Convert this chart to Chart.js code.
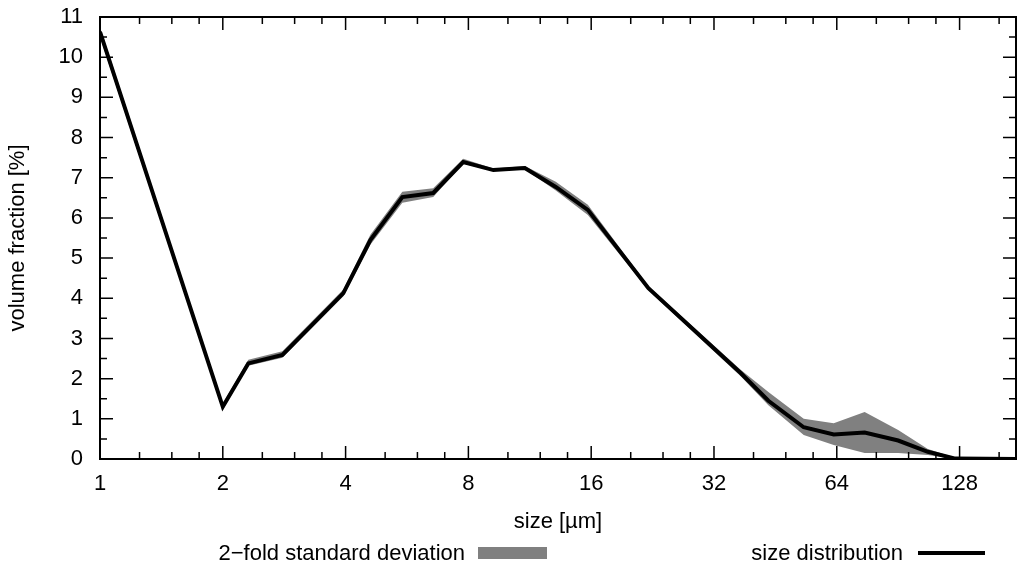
<!DOCTYPE html>
<html lang="en">
<head>
  <meta charset="UTF-8">
  <title>size distribution</title>
  <script src="https://cdn.jsdelivr.net/npm/chart.js"></script>
  <style>
    body { margin: 0; background: #fff; }
    #wrap { position: relative; width: 1020px; height: 568px; font-family: 'Liberation Sans', Arial, sans-serif; font-size: 22px; color: #000; }
    .leg { position: absolute; line-height: 26px; white-space: nowrap; }
    .swatch { position: absolute; }
  </style>
</head>
<body>
<div id="wrap">
  <canvas id="sizeChart" width="1020" height="568"></canvas>
  <!-- legend sits under the axis title, text first then sample -->
  <div class="leg" style="right: 555px; top: 540px;">2−fold standard deviation</div>
  <div class="swatch" style="left: 478px; top: 547px; width: 69px; height: 12px; background: #808080;"></div>
  <div class="leg" style="right: 117px; top: 540px;">size distribution</div>
  <div class="swatch" style="left: 918px; top: 551px; width: 67px; height: 4px; background: #000;"></div>
</div>
<script>
  // particle size [µm] and volume fraction [%]
  const sizes = [1, 2, 2.31, 2.80, 3.95, 4.60, 5.51, 6.56, 7.77, 9.21, 11.0, 13.1, 15.7, 22.1, 37.2, 43.5, 53.1, 62.9, 74.9, 90.5, 107, 125, 176];
  const fraction = [10.63, 1.3, 2.38, 2.59, 4.13, 5.45, 6.52, 6.62, 7.39, 7.19, 7.24, 6.77, 6.20, 4.25, 2.14, 1.45, 0.79, 0.61, 0.66, 0.46, 0.18, 0.01, 0];
  // 2-fold standard deviation band
  const upper = [10.75, 1.38, 2.47, 2.68, 4.22, 5.58, 6.65, 6.74, 7.47, 7.23, 7.29, 6.90, 6.33, 4.30, 2.22, 1.67, 1.0, 0.89, 1.17, 0.72, 0.25, 0.03, 0];
  const lower = [10.50, 1.22, 2.32, 2.52, 4.05, 5.33, 6.38, 6.52, 7.35, 7.17, 7.21, 6.68, 6.07, 4.20, 2.06, 1.34, 0.60, 0.35, 0.15, 0.15, 0.10, 0, 0];

  const xMajor = [1, 2, 4, 8, 16, 32, 64, 128];
  const xMinor = [1.25, 1.5, 1.75, 2.5, 3, 3.5, 5, 6, 7, 10, 12, 14, 20, 24, 28, 40, 48, 56, 80, 96, 112, 160];
  const yMajor = [0, 1, 2, 3, 4, 5, 6, 7, 8, 9, 10, 11];
  const yMinor = [0.5, 1.5, 2.5, 3.5, 4.5, 5.5, 6.5, 7.5, 8.5, 9.5, 10.5];

  const pts = arr => sizes.map((s, i) => ({ x: s, y: arr[i] }));

  Chart.defaults.font.family = "'Liberation Sans', Arial, sans-serif";
  Chart.defaults.font.size = 22;
  Chart.defaults.color = '#000';

  // gnuplot style frame with inward ticks on all four sides
  const frame = {
    id: 'frame',
    afterDraw(chart) {
      const { ctx, chartArea: a, scales: { x, y } } = chart;
      ctx.save();
      ctx.strokeStyle = '#000';
      ctx.lineWidth = 1.5;
      ctx.beginPath();
      const xt = (v, len) => {
        const p = x.getPixelForValue(v);
        ctx.moveTo(p, a.bottom); ctx.lineTo(p, a.bottom - len);
        ctx.moveTo(p, a.top); ctx.lineTo(p, a.top + len);
      };
      const yt = (v, len) => {
        const p = y.getPixelForValue(v);
        ctx.moveTo(a.left, p); ctx.lineTo(a.left + len, p);
        ctx.moveTo(a.right, p); ctx.lineTo(a.right - len, p);
      };
      xMajor.forEach(v => xt(v, 13));
      xMinor.forEach(v => xt(v, 7));
      yMajor.forEach(v => yt(v, 13));
      yMinor.forEach(v => yt(v, 7));
      ctx.stroke();
      ctx.lineWidth = 2;
      ctx.strokeRect(a.left, a.top, a.width, a.height);
      ctx.restore();
    }
  };

  const ctx = document.getElementById('sizeChart').getContext('2d');
  new Chart(ctx, {
    type: 'line',
    data: {
      datasets: [
        {
          label: 'size distribution',
          data: pts(fraction),
          borderColor: '#000',
          borderWidth: 4,
          pointRadius: 0,
          fill: false,
          tension: 0
        },
        {
          label: '2-fold standard deviation',
          data: pts(upper),
          borderWidth: 0,
          borderColor: 'rgba(0,0,0,0)',
          backgroundColor: '#808080',
          pointRadius: 0,
          fill: '+1'
        },
        {
          label: 'lower',
          data: pts(lower),
          borderWidth: 0,
          borderColor: 'rgba(0,0,0,0)',
          pointRadius: 0,
          fill: false
        }
      ]
    },
    options: {
      responsive: false,
      animation: false,
      layout: { padding: { top: 17, right: 4, bottom: 30, left: 0 } },
      plugins: { legend: { display: false }, tooltip: { enabled: false } },
      scales: {
        x: {
          type: 'logarithmic',
          min: 1,
          max: 176,
          grid: { display: false, drawTicks: false },
          border: { display: false },
          afterBuildTicks: s => { s.ticks = xMajor.map(v => ({ value: v })); },
          afterFit: s => { s.height = 79; s.paddingLeft = 0; s.paddingRight = 0; },
          ticks: { padding: 12, maxRotation: 0, autoSkip: false, callback: v => String(v) },
          title: { display: true, text: 'size [µm]', padding: { top: 0, bottom: 3 } }
        },
        y: {
          min: 0,
          max: 11,
          grid: { display: false, drawTicks: false },
          border: { display: false },
          afterFit: s => { s.width = 100; s.paddingTop = 0; s.paddingBottom = 0; },
          ticks: { stepSize: 1, padding: 17 },
          title: { display: true, text: 'volume fraction [%]', padding: { top: 5, bottom: 0 } }
        }
      }
    },
    plugins: [frame]
  });
</script>
</body>
</html>
